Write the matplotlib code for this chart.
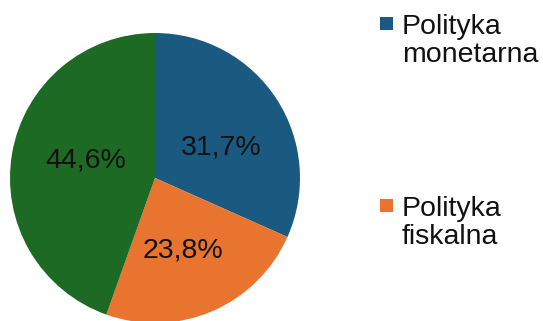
#! /usr/bin/env python3

import matplotlib
matplotlib.use('Agg')
import matplotlib.pyplot as plt
from matplotlib.patches import Rectangle

plt.rcParams['font.family'] = ['Liberation Sans', 'DejaVu Sans']

shares = [31.7, 23.8, 44.6]
colors = ['#1a5a80', '#e8742f', '#1d6a24']
legend_labels = ['Polityka\nmonetarna', 'Polityka\nfiskalna']
# where the value text sits inside each wedge, in pie radius units
label_pos = [(0.46, 0.21), (0.19, -0.50), (-0.48, 0.12)]

W, H = 543, 321
DPI = 100


def fmt_pct(v):
    return f'{v:.1f}%'.replace('.', ',')


def main() -> None:
    fig = plt.figure(figsize=(W / DPI, H / DPI), dpi=DPI)
    # pie centred at (155, 178) px from top-left, radius 145 px
    cx, cy, r = 155, 178, 145
    ax = fig.add_axes([(cx - r) / W, (H - cy - r) / H, 2 * r / W, 2 * r / H])

    ax.pie(shares, colors=colors, startangle=90, counterclock=False,
           wedgeprops={'linewidth': 0})
    ax.set_xlim(-1, 1)
    ax.set_ylim(-1, 1)
    ax.set_aspect('auto')
    ax.axis('off')

    for v, (x, y) in zip(shares, label_pos):
        ax.text(x, y, fmt_pct(v), ha='center', va='center',
                fontsize=20.5, color='#111111')

    # legend drawn in figure pixels
    tops = [15, 197]
    for top, color, label in zip(tops, colors, legend_labels):
        fig.add_artist(Rectangle((380 / W, (H - top - 15) / H), 13 / W, 13 / H,
                                 transform=fig.transFigure, facecolor=color,
                                 edgecolor='none'))
        fig.text(402 / W, (H - top + 1) / H, label, ha='left', va='top',
                 fontsize=20.5, color='#111111', linespacing=1.1)

    fig.savefig('out.png', dpi=DPI)
    plt.close(fig)


if __name__ == '__main__':
    main()
